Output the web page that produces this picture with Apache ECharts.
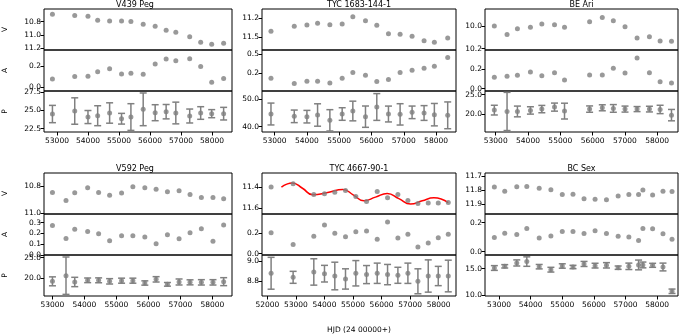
<!DOCTYPE html>
<html>
<head>
<meta charset="utf-8">
<script src="https://cdn.jsdelivr.net/npm/echarts@6/dist/echarts.min.js"></script>
<style>
  html, body { margin: 0; padding: 0; background: #fff; }
  #chart { width: 681px; height: 335px; }
</style>
</head>
<body>
<div id="chart"></div>
<script>
// ---- V439 Peg ----
var v439X  = [52853, 53572, 53999, 54312, 54697, 55082, 55384, 55780, 56166, 56520, 56832, 57280, 57634, 57989, 58374];
var v439V  = [10.689, 10.709, 10.719, 10.780, 10.790, 10.790, 10.800, 10.840, 10.871, 10.932, 10.962, 11.028, 11.114, 11.144, 11.129];
var v439A  = [0.078, 0.100, 0.103, 0.144, 0.172, 0.125, 0.131, 0.122, 0.216, 0.263, 0.247, 0.266, 0.194, 0.047, 0.081];
var v439P  = [24.50, 24.91, 24.09, 24.27, 24.64, 23.86, 24.09, 25.14, 24.68, 24.82, 24.64, 24.23, 24.64, 24.55, 24.55];
var v439Pe = [1.18, 1.80, 0.89, 1.36, 1.39, 0.73, 1.82, 2.23, 1.09, 0.98, 1.48, 0.95, 0.86, 0.55, 0.86];

// ---- TYC 1683-144-1 ----
var tyc1X  = [52888, 53609, 54001, 54331, 54712, 55093, 55423, 55815, 56165, 56526, 56887, 57258, 57629, 57948, 58361];
var tyc1V  = [11.407, 11.329, 11.309, 11.283, 11.303, 11.293, 11.179, 11.241, 11.314, 11.443, 11.453, 11.484, 11.552, 11.578, 11.510];
var tyc1A  = [0.121, 0.037, 0.074, 0.074, 0.047, 0.121, 0.210, 0.168, 0.068, 0.100, 0.210, 0.247, 0.279, 0.310, 0.447];
var tyc1P  = [44.63, 43.78, 43.66, 44.27, 42.32, 44.63, 45.73, 43.66, 47.20, 44.63, 44.50, 45.24, 45.00, 44.39, 44.15];
var tyc1Pe = [4.0, 2.3, 2.3, 4.1, 3.9, 2.3, 3.6, 3.9, 4.9, 2.9, 3.9, 2.3, 2.7, 4.1, 4.9];

// ---- BE Ari ----
var beAriX  = [52957, 53351, 53672, 54075, 54428, 54821, 55131, 55908, 56301, 56643, 57005, 57378, 57761, 58092, 58444];
var beAriV  = [10.000, 10.076, 10.024, 10.012, 9.982, 9.988, 10.012, 9.962, 9.926, 9.953, 10.006, 10.106, 10.094, 10.132, 10.135];
var beAriA  = [0.117, 0.128, 0.138, 0.172, 0.134, 0.166, 0.090, 0.141, 0.141, 0.210, 0.162, 0.317, 0.166, 0.072, 0.059];
var beAriP  = [21.10, 20.76, 20.76, 21.02, 21.36, 21.86, 20.85, 21.36, 21.69, 21.53, 21.36, 21.36, 21.36, 21.27, 19.83];
var beAriPe = [1.23, 4.83, 1.36, 0.93, 0.93, 1.02, 2.00, 0.80, 0.76, 0.97, 0.76, 0.64, 0.72, 1.06, 1.44];

// ---- V592 Peg ----
var v592X  = [53000, 53424, 53697, 54101, 54444, 54788, 55162, 55515, 55889, 56242, 56596, 56960, 57303, 57657, 58020, 58354];
var v592V  = [10.846, 10.905, 10.849, 10.812, 10.846, 10.866, 10.851, 10.805, 10.812, 10.822, 10.841, 10.834, 10.861, 10.883, 10.883, 10.893];
var v592A  = [0.272, 0.152, 0.238, 0.217, 0.195, 0.131, 0.177, 0.177, 0.165, 0.103, 0.186, 0.149, 0.205, 0.242, 0.125, 0.278];
var v592P  = [19.18, 20.57, 19.02, 19.43, 19.43, 19.18, 19.34, 19.34, 18.77, 19.67, 18.44, 19.02, 18.93, 18.93, 18.93, 19.10];
var v592Pe = [1.10, 4.60, 1.15, 0.57, 0.60, 0.66, 0.62, 0.62, 0.53, 0.66, 0.45, 0.74, 0.62, 0.66, 0.66, 0.98];

// ---- TYC 4667-90-1 ----
var tyc2X  = [52129, 52901, 53626, 54000, 54362, 54737, 55099, 55474, 55848, 56211, 56573, 56924, 57275, 57637, 57988, 58339];
var tyc2V  = [11.397, 11.368, 11.470, 11.463, 11.448, 11.432, 11.489, 11.537, 11.441, 11.502, 11.470, 11.527, 11.556, 11.552, 11.552, 11.546];
var tyc2A  = [0.203, 0.090, 0.168, 0.277, 0.197, 0.165, 0.213, 0.219, 0.139, 0.306, 0.152, 0.187, 0.065, 0.103, 0.155, 0.187];
var tyc2P  = [8.879, 8.839, 8.892, 8.875, 8.852, 8.823, 8.879, 8.866, 8.879, 8.866, 8.859, 8.879, 8.800, 8.852, 8.852, 8.852];
var tyc2Pe = [0.157, 0.059, 0.130, 0.082, 0.136, 0.100, 0.125, 0.089, 0.100, 0.100, 0.079, 0.100, 0.123, 0.159, 0.095, 0.156];
// fitted curve (red)
var tyc2FitX = [52491, 52678, 52866, 53228, 53591, 54117, 54643, 55018, 55380, 55789, 56199, 56608, 57018, 57427, 57836, 58339];
var tyc2FitV = [11.400, 11.371, 11.359, 11.410, 11.473, 11.451, 11.422, 11.476, 11.530, 11.495, 11.460, 11.510, 11.562, 11.530, 11.502, 11.549];

// ---- BC Sex ----
var bcSexX  = [52852, 53180, 53561, 53878, 54270, 54640, 55000, 55339, 55688, 56037, 56397, 56767, 57106, 57413, 57550, 57857, 58185, 58471];
var bcSexV  = [11.777, 11.807, 11.775, 11.772, 11.786, 11.795, 11.830, 11.828, 11.860, 11.864, 11.866, 11.841, 11.830, 11.830, 11.798, 11.834, 11.807, 11.809];
var bcSexA  = [0.098, 0.128, 0.119, 0.160, 0.095, 0.109, 0.140, 0.140, 0.126, 0.144, 0.126, 0.107, 0.102, 0.077, 0.160, 0.158, 0.123, 0.086];
var bcSexP  = [15.13, 15.45, 16.09, 16.35, 15.38, 14.81, 15.51, 15.32, 15.90, 15.58, 15.64, 15.19, 15.45, 15.71, 15.71, 15.64, 15.32, 10.71];
var bcSexPe = [0.45, 0.32, 0.58, 0.90, 0.42, 0.45, 0.42, 0.32, 0.48, 0.45, 0.51, 0.32, 0.61, 0.93, 0.55, 0.38, 0.74, 0.42];

// tick labels
var xTicksA = [53000, 54000, 55000, 56000, 57000, 58000];
var xTicksB = [52000, 53000, 54000, 55000, 56000, 57000, 58000];

var panels = [
  {name: 'V439 Peg', x: v439X, v: v439V, a: v439A, p: v439P, pe: v439Pe, xt: xTicksA,
   xr: [52581, 58644], vr: [10.61, 11.23], ar: [-0.034, 0.347], pr: [22.05, 27.64],
   vt: [10.8, 11.0, 11.2], at: [0.0, 0.2], pt: [22.5, 25.0, 27.5]},
  {name: 'TYC 1683-144-1', x: tyc1X, v: tyc1V, a: tyc1A, p: tyc1P, pe: tyc1Pe, xt: xTicksA,
   xr: [52610, 58618], vr: [11.06, 11.697], ar: [-0.079, 0.563], pr: [38.05, 53.05],
   vt: [11.2, 11.5], at: [0.2, 0.5], pt: [40.0, 50.0]},
  {name: 'BE Ari', x: beAriX, v: beAriV, a: beAriA, p: beAriP, pe: beAriPe, xt: xTicksA,
   xr: [52668, 58646], vr: [9.85, 10.212], ar: [-0.024, 0.40], pr: [15.56, 25.94],
   vt: [10.0, 10.2], at: [0.0, 0.2], pt: [20.0, 25.0]},
  {name: 'V592 Peg', x: v592X, v: v592V, a: v592A, p: v592P, pe: v592Pe, xt: xTicksA,
   xr: [52736, 58615], vr: [10.703, 11.005], ar: [-0.002, 0.38], pr: [15.57, 25.66],
   vt: [10.8, 11.0], at: [0.0, 0.1, 0.2, 0.3], pt: [20.0, 25.0]},
  {name: 'TYC 4667-90-1', x: tyc2X, v: tyc2V, a: tyc2A, p: tyc2P, pe: tyc2Pe, xt: xTicksB,
   xr: [51810, 58610], vr: [11.264, 11.657], ar: [-0.0126, 0.384], pr: [8.655, 9.059],
   vt: [11.4, 11.6], at: [0.0, 0.2], pt: [8.8, 9.0]},
  {name: 'BC Sex', x: bcSexX, v: bcSexV, a: bcSexA, p: bcSexP, pe: bcSexPe, xt: xTicksA,
   xr: [52556, 58660], vr: [11.677, 11.968], ar: [-0.0228, 0.26], pr: [9.81, 17.6],
   vt: [11.7, 11.8, 11.9], at: [0.0, 0.2], pt: [10.0, 15.0]}
];

var colLeft = [38, 262, 485];
var colWidth = [194, 194, 193];
var rowEdges = [[9, 50, 91, 132], [173, 214, 255, 296]];
var FONT = 'DejaVu Sans';
var GRAY = '#808080';

function zip(a, b) { return a.map(function (v, i) { return [v, b[i]]; }); }

function errRender(params, api) {
  var x = api.value(0), y = api.value(1), e = api.value(2);
  var t = api.coord([x, y + e]), b = api.coord([x, y - e]);
  var st = {stroke: GRAY, lineWidth: 1.5};
  var cw = 3.5;
  return {type: 'group', children: [
    {type: 'line', shape: {x1: t[0], y1: t[1], x2: b[0], y2: b[1]}, style: st},
    {type: 'line', shape: {x1: t[0] - cw, y1: t[1], x2: t[0] + cw, y2: t[1]}, style: st},
    {type: 'line', shape: {x1: b[0] - cw, y1: b[1], x2: b[0] + cw, y2: b[1]}, style: st}
  ]};
}

var grids = [], xAxes = [], yAxes = [], series = [], titles = [];
var names = ['V', 'A', 'P'];

panels.forEach(function (pn, i) {
  var col = i % 3, row = Math.floor(i / 3);
  var edges = rowEdges[row];
  titles.push({
    text: pn.name, left: colLeft[col] + colWidth[col] / 2, top: edges[0] - 8,
    textAlign: 'center', padding: 0,
    textStyle: {fontFamily: FONT, fontSize: 8, fontWeight: 'normal', color: '#000', lineHeight: 8}
  });
  var ranges = [pn.vr, pn.ar, pn.pr];
  var ticks = [pn.vt, pn.at, pn.pt];
  for (var k = 0; k < 3; k++) {
    var g = i * 3 + k;
    grids.push({
      left: colLeft[col], top: edges[k], width: colWidth[col], height: edges[k + 1] - edges[k],
      show: true, borderColor: '#000', borderWidth: 1, backgroundColor: 'transparent'
    });
    var isBottom = (k === 2);
    var xa = {
      type: 'value', gridIndex: g, min: pn.xr[0], max: pn.xr[1],
      axisLine: {show: false}, splitLine: {show: false},
      axisTick: {show: isBottom, customValues: pn.xt, length: 3.5, lineStyle: {color: '#000'}},
      axisLabel: {show: isBottom, customValues: pn.xt, margin: 5, fontFamily: FONT, fontSize: 7.5, color: '#000',
                  formatter: function (v) { return String(v); }}
    };
    if (i === 4 && isBottom) {
      xa.name = 'HJD (24 00000+)';
      xa.nameLocation = 'middle';
      xa.nameGap = 30;
      xa.nameTextStyle = {fontFamily: FONT, fontSize: 7.5, color: '#000'};
    }
    xAxes.push(xa);
    var ya = {
      type: 'value', gridIndex: g, min: ranges[k][0], max: ranges[k][1], inverse: k === 0,
      axisLine: {show: false}, splitLine: {show: false},
      axisTick: {show: true, customValues: ticks[k], length: 3.5, lineStyle: {color: '#000'}},
      axisLabel: {show: true, customValues: ticks[k], margin: 3, fontFamily: FONT, fontSize: 7.5, color: '#000',
                  formatter: function (v) { return v.toFixed(1); }}
    };
    if (col === 0) {
      ya.name = names[k];
      ya.nameLocation = 'middle';
      ya.nameRotate = 90;
      ya.nameGap = 35;
      ya.nameTextStyle = {fontFamily: FONT, fontSize: 7.5, color: '#000'};
    }
    yAxes.push(ya);
  }
  var g0 = i * 3;
  series.push({type: 'scatter', xAxisIndex: g0, yAxisIndex: g0, data: zip(pn.x, pn.v),
               symbolSize: 5, itemStyle: {color: GRAY}, silent: true});
  series.push({type: 'scatter', xAxisIndex: g0 + 1, yAxisIndex: g0 + 1, data: zip(pn.x, pn.a),
               symbolSize: 5, itemStyle: {color: GRAY}, silent: true});
  series.push({type: 'custom', xAxisIndex: g0 + 2, yAxisIndex: g0 + 2,
               data: pn.x.map(function (x, j) { return [x, pn.p[j], pn.pe[j]]; }),
               renderItem: errRender, silent: true, z: 2});
  series.push({type: 'scatter', xAxisIndex: g0 + 2, yAxisIndex: g0 + 2, data: zip(pn.x, pn.p),
               symbolSize: 5, itemStyle: {color: GRAY}, silent: true, z: 3});
});

// red fit in TYC 4667-90-1 V panel
series.push({type: 'line', xAxisIndex: 12, yAxisIndex: 12, data: zip(tyc2FitX, tyc2FitV),
             smooth: 0.5, showSymbol: false, lineStyle: {color: '#ff0000', width: 1.5}, z: 1, silent: true});

var chart = echarts.init(document.getElementById('chart'));
chart.setOption({
  animation: false,
  backgroundColor: '#fff',
  title: titles,
  grid: grids,
  xAxis: xAxes,
  yAxis: yAxes,
  series: series
});
</script>
</body>
</html>
